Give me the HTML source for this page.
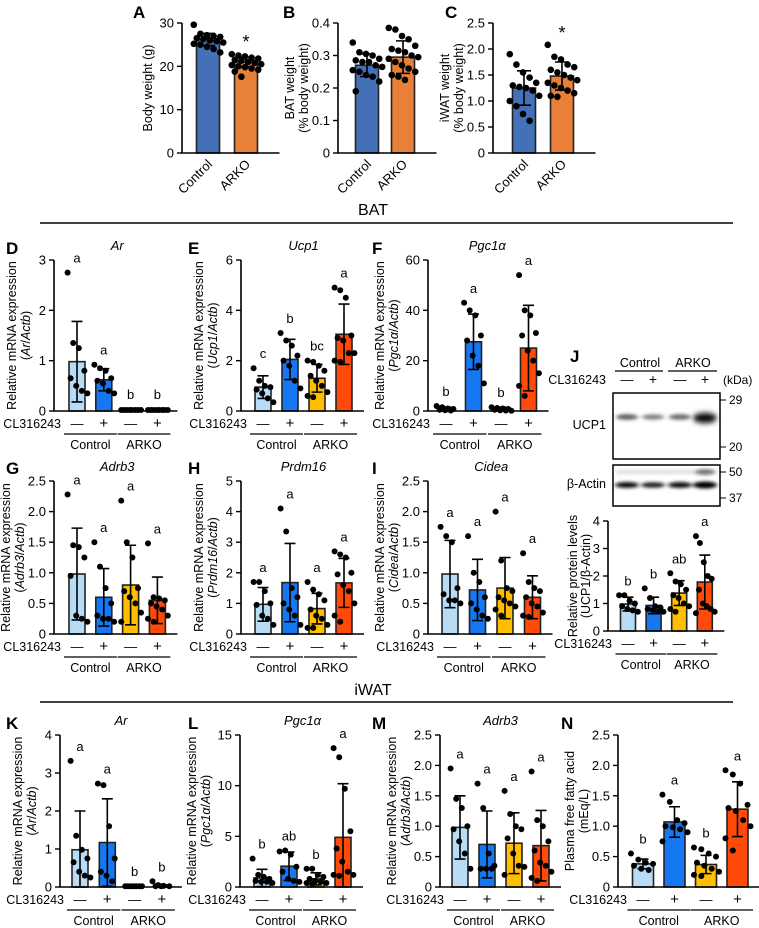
<!DOCTYPE html>
<html><head><meta charset="utf-8"><style>
html,body{margin:0;padding:0;background:#fff;}
svg{display:block;font-family:"Liberation Sans",Arial,sans-serif;}
</style></head><body>
<svg id="fig" width="759" height="928" viewBox="0 0 759 928" xmlns="http://www.w3.org/2000/svg">
<defs>
<filter id="blur2" x="-50%" y="-200%" width="200%" height="500%"><feGaussianBlur stdDeviation="2.2 1.6"/></filter>
<filter id="blur3" x="-50%" y="-200%" width="200%" height="500%"><feGaussianBlur stdDeviation="2.5 3"/></filter>
</defs>
<g>
<text x="373" y="215" font-size="16" text-anchor="middle">BAT</text>
<line x1="40" y1="223" x2="733" y2="223" stroke="#000" stroke-width="1.5"/>
</g>
<g>
<text x="373" y="695" font-size="16" text-anchor="middle">iWAT</text>
<line x1="40" y1="702" x2="733" y2="702" stroke="#000" stroke-width="1.5"/>
</g>
<g>
<text x="570" y="362" font-size="17" font-weight="bold">J</text>
<text x="640" y="367" font-size="12.5" text-anchor="middle">Control</text>
<line x1="615" y1="371" x2="663" y2="371" stroke="#000" stroke-width="1.2"/>
<text x="693" y="367" font-size="12.5" text-anchor="middle">ARKO</text>
<line x1="668" y1="371" x2="717" y2="371" stroke="#000" stroke-width="1.2"/>
<text x="606" y="384" font-size="12.5" text-anchor="end">CL316243</text>
<text x="627" y="384" font-size="13" text-anchor="middle">—</text>
<text x="653" y="384" font-size="14" text-anchor="middle">+</text>
<text x="680" y="384" font-size="13" text-anchor="middle">—</text>
<text x="705" y="384" font-size="14" text-anchor="middle">+</text>
<text x="723" y="384" font-size="12">(kDa)</text>
<rect x="613" y="393" width="107" height="66" fill="#fff" stroke="#000" stroke-width="1.5"/>
<g filter="url(#blur2)" fill="#333">
<ellipse cx="627" cy="417" rx="11" ry="3" opacity="0.75"/>
<ellipse cx="653" cy="417" rx="11" ry="2.8" opacity="0.6"/>
<ellipse cx="680" cy="417" rx="11" ry="3" opacity="0.7"/>
</g>
<ellipse cx="705" cy="418" rx="12" ry="5" fill="#000" filter="url(#blur3)"/>
<text x="606" y="429" font-size="12.5" text-anchor="end">UCP1</text>
<line x1="720" y1="400" x2="726" y2="400" stroke="#000"/><text x="729" y="404" font-size="12">29</text>
<line x1="720" y1="447" x2="726" y2="447" stroke="#000"/><text x="729" y="451" font-size="12">20</text>
<rect x="613" y="465" width="107" height="41" fill="#fff" stroke="#000" stroke-width="1.5"/>
<g filter="url(#blur2)">
<rect x="616" y="470" width="101" height="4" fill="#bbb" opacity="0.5"/>
<ellipse cx="627" cy="485" rx="12" ry="3" fill="#111"/>
<ellipse cx="653" cy="485" rx="12" ry="2.8" fill="#222"/>
<ellipse cx="680" cy="485" rx="12" ry="3" fill="#111"/>
<ellipse cx="705" cy="485" rx="12" ry="3.5" fill="#000"/>
<ellipse cx="705" cy="472" rx="10" ry="3" fill="#777"/>
</g>
<text x="606" y="488" font-size="12.5" text-anchor="end">β-Actin</text>
<line x1="720" y1="472" x2="726" y2="472" stroke="#000"/><text x="729" y="476" font-size="12">50</text>
<line x1="720" y1="498" x2="726" y2="498" stroke="#000"/><text x="729" y="502" font-size="12">37</text>
</g>
</svg>
<script>
// ---------- Data ----------
const groups2 = ["Control", "ARKO"];
const groups4 = ["Control −", "Control +", "ARKO −", "ARKO +"];

const aMeans = [26.2, 21.0];
const aSds = [1.4, 1.1];
const aDots = [[29.6,27.5,27.2,27,26.8,26.5,26.3,26,25.8,25.5,25.2,25,24.5,24,23.2],[22.8,22.5,22.3,22,21.8,21.5,21.3,21,20.8,20.5,20.3,20,19.8,19.5,19.2,18.8,17.6]];
const aTicks = [0,10,20,30];
const aLetters = ["", "*"];

const bMeans = [0.27, 0.295];
const bSds = [0.035, 0.05];
const bDots = [[0.34,0.31,0.305,0.3,0.29,0.285,0.28,0.28,0.27,0.265,0.255,0.25,0.24,0.235,0.22,0.19],[0.385,0.38,0.36,0.35,0.33,0.32,0.315,0.31,0.3,0.295,0.29,0.28,0.27,0.26,0.25,0.24,0.235,0.225]];
const bTicks = [0,0.1,0.2,0.3,0.4];
const bLetters = ["", ""];

const cMeans = [1.25, 1.48];
const cSds = [0.33, 0.27];
const cDots = [[1.9,1.7,1.55,1.45,1.35,1.3,1.27,1.25,1.2,1.1,1.0,0.9,0.75,0.62],[2.08,1.85,1.8,1.7,1.65,1.6,1.55,1.5,1.45,1.4,1.35,1.3,1.25,1.2,1.15,1.1,1.08]];
const cTicks = [0,0.5,1.0,1.5,2.0,2.5];
const cLetters = ["", "*"];

const dMeans = [0.98,0.62,0.03,0.03];
const dSds = [0.8,0.22,0.01,0.01];
const dDots = [[2.75,1.35,1.25,0.8,0.65,0.5,0.4,0.35],[0.92,0.85,0.8,0.65,0.6,0.55,0.4,0.35],[0.02,0.02,0.02,0.02,0.02,0.02,0.02,0.02],[0.02,0.02,0.02,0.02,0.02,0.02,0.02,0.02]];
const dTicks = [0,1,2,3];
const dLetters = ["a","a","b","b"];

const eMeans = [0.95,2.05,1.3,3.05];
const eSds = [0.45,0.8,0.55,1.2];
const eDots = [[1.7,1.2,1.0,0.95,0.85,0.7,0.5,0.35],[3.1,2.8,2.6,2.2,2.0,1.8,1.2,0.9],[2.0,1.95,1.8,1.6,1.4,1.2,1.0,0.75,0.6,0.55],[4.9,4.8,4.5,3.0,2.9,2.8,2.3,2.3,2.0,1.95]];
const eTicks = [0,2,4,6];
const eLetters = ["c","b","bc","a"];

const fMeans = [1,27.5,1,25];
const fSds = [0.5,11,0.5,17];
const fDots = [[2,1.5,1,0.8,0.5,0.3,0.2],[43,40,38,30,28,22,18,11],[1.5,1.2,1,0.8,0.5,0.3,0.2,0.1],[54,40,38,31,30,24,20,15,10,6]];
const fTicks = [0,20,40,60];
const fLetters = ["b","a","b","a"];

const gMeans = [0.98,0.6,0.8,0.55];
const gSds = [0.75,0.47,0.65,0.38];
const gDots = [[2.28,1.45,1.42,1.25,0.95,0.3,0.25,0.2],[1.5,1.1,0.75,0.5,0.3,0.25,0.25,0.2],[2.18,1.5,1.25,0.75,0.7,0.6,0.5,0.35,0.2],[1.48,0.6,0.58,0.55,0.5,0.45,0.4,0.3,0.25,0.2]];
const gTicks = [0,0.5,1.0,1.5,2.0,2.5];
const gLetters = ["a","a","a","a"];

const hMeans = [0.97,1.68,0.83,1.67];
const hSds = [0.55,1.28,0.5,0.8];
const hDots = [[1.7,1.7,1.4,1.0,0.95,0.6,0.5,0.3],[4.1,3.35,1.5,1.2,1.0,0.8,0.6,0.3],[1.7,1.45,1.3,1.1,0.8,0.6,0.5,0.3,0.2,0.2],[2.7,2.6,2.5,2.0,1.95,1.6,1.4,1.0,0.6,0.4]];
const hTicks = [0,1,2,3,4,5];
const hLetters = ["a","a","a","a"];

const iMeans = [0.98,0.72,0.75,0.6];
const iSds = [0.55,0.5,0.5,0.35];
const iDots = [[1.75,1.6,1.5,0.75,0.65,0.55,0.55,0.5],[1.6,1.0,0.85,0.6,0.5,0.4,0.3,0.25],[2.0,1.2,0.75,0.7,0.6,0.55,0.5,0.45,0.4,0.3],[1.32,0.85,0.75,0.7,0.6,0.5,0.45,0.35,0.3,0.28]];
const iTicks = [0,0.5,1.0,1.5,2.0,2.5];
const iLetters = ["a","a","a","a"];

const jMeans = [0.98,0.93,1.38,1.78];
const jSds = [0.25,0.3,0.45,0.98];
const jDots = [[1.3,1.3,1.1,1.0,0.9,0.8,0.75,0.7],[1.55,1.2,0.9,0.85,0.8,0.75,0.7,0.7],[2.1,1.8,1.7,1.5,1.3,1.2,1.0,0.9,0.8,0.7],[3.45,3.2,2.5,2.0,1.9,1.5,1.0,0.9,0.8,0.7,0.65]];
const jTicks = [0,1,2,3,4];
const jLetters = ["b","b","ab","a"];

const kMeans = [0.98,1.17,0.02,0.03];
const kSds = [1.02,1.15,0.01,0.02];
const kDots = [[3.32,1.35,0.98,0.75,0.65,0.4,0.3,0.25],[2.72,2.68,1.6,0.75,0.4,0.3,0.15],[0.02,0.02,0.02,0.02,0.02,0.02,0.02],[0.15,0.05,0.03,0.02,0.02,0.02]];
const kTicks = [0,1,2,3,4];
const kLetters = ["a","a","b","b"];

const lMeans = [0.9,2.05,0.8,4.9];
const lSds = [0.85,1.4,0.6,5.3];
const lDots = [[2.8,1.2,1,0.8,0.6,0.5,0.5,0.4],[3.5,3.6,3.2,2.0,1.5,0.8,0.6,0.5],[1.8,1.8,1.2,1,0.8,0.6,0.5,0.4,0.4,0.3],[13.7,12.8,9.7,5.5,3.8,2.5,1.5,1.2,1.2,1.1]];
const lTicks = [0,5,10,15];
const lLetters = ["b","ab","b","a"];

const mMeans = [0.98,0.7,0.72,0.68];
const mSds = [0.52,0.55,0.5,0.58];
const mDots = [[1.95,1.45,1.3,1.0,0.95,0.75,0.55,0.3],[1.7,1.3,0.55,0.35,0.3,0.3,0.3],[1.58,1.2,1.0,0.95,0.8,0.55,0.35,0.33,0.2],[1.9,1.1,1.0,0.75,0.6,0.4,0.35,0.25,0.15,0.1]];
const mTicks = [0,0.5,1.0,1.5,2.0,2.5];
const mLetters = ["a","a","a","a"];

const nMeans = [0.38,1.07,0.37,1.28];
const nSds = [0.08,0.25,0.15,0.45];
const nDots = [[0.55,0.45,0.4,0.38,0.35,0.3,0.28],[1.52,1.4,1.1,1.05,1.0,0.98,0.95,0.9,0.75],[0.65,0.62,0.55,0.5,0.4,0.35,0.3,0.25,0.2,0.18],[1.92,1.85,1.7,1.35,1.3,1.25,1.1,1.0,0.8,0.6]];
const nTicks = [0,0.5,1.0,1.5,2.0,2.5];
const nLetters = ["b","a","b","a"];

// ---------- Rendering ----------
const NS = "http://www.w3.org/2000/svg";
const svg = document.getElementById("fig");
const C4 = ["#b8dcf6","#1677f2","#ffbf00","#ff4a0a"];
const C2 = ["#4470b8","#e9803a"];
function mk(tag, attrs, parent, txt){
  const e = document.createElementNS(NS, tag);
  for (const k in attrs) e.setAttribute(k, attrs[k]);
  if (txt !== undefined) e.textContent = txt;
  parent.appendChild(e);
  return e;
}
function fmt(t, dec){ return t === 0 ? "0" : t.toFixed(dec); }

function panel(p){
  const g = mk("g", {}, svg);
  
  
  const n = p.means.length;
  const max = p.ticks[p.ticks.length-1];
  const y = v => p.bottom - (v / max) * (p.bottom - p.top);
  const x = i => p.bar1 + i * p.sp;
  const axEnd = x(n-1) + p.bw/2 + (n === 2 ? 22 : 12);
  if (p.letter) mk("text", {x:p.lx, y:p.ly, "font-size":17, "font-weight":"bold"}, g, p.letter);
  if (p.title){
    const t = mk("text", {x:(x(0)+x(n-1))/2, y:p.top-10, "font-size":13, "font-style":"italic", "text-anchor":"middle"}, g, p.title);
    
    
  }
  for (let i=0;i<n;i++){
    const col = n===2 ? C2[i] : C4[i];
    const r = mk("rect", {x:x(i)-p.bw/2, y:y(p.means[i]), width:p.bw, height:p.bottom-y(p.means[i]), fill:col, stroke:"#222", "stroke-width":1.6}, g);
    
    
  }
  const rad = p.r || 3;
  for (let i=0;i<n;i++){
    const ds = p.dots[i];
    ds.forEach((v, k) => {
      const cols = ds.length > 10 ? 5 : Math.min(4, ds.length);
      const spread = p.bw * (n===2 ? 1.15 : 1.05);
      const off = ((k % cols) - (cols-1)/2) * (spread/(cols-1 || 1)) + ((Math.floor(k/cols)%2) ? 2 : -1);
      const c = mk("circle", {cx:x(i)+off, cy:y(v), r:rad, fill:"#000"}, g);
      
      
    });
  }
  for (let i=0;i<n;i++){
    const hi = y(p.means[i]+p.sds[i]), lo = y(Math.max(0, p.means[i]-p.sds[i]));
    const cw = n===2 ? 7 : 5.5;
    const eb = mk("path", {d:`M${x(i)},${hi}V${lo}M${x(i)-cw},${hi}H${x(i)+cw}M${x(i)-cw},${lo}H${x(i)+cw}`, stroke:"#000", "stroke-width":1.6, fill:"none"}, g);
    
    
  }
  for (let i=0;i<n;i++){
    if (!p.letters[i]) continue;
    const topv = Math.max(Math.max.apply(null, p.dots[i]), p.means[i]+p.sds[i]);
    const ty = Math.max(p.top + 2, y(topv) - 10);
    const t = mk("text", {x:x(i), y: p.letters[i]==="*" ? ty+4 : ty, "font-size": p.letters[i]==="*"?18:13, "text-anchor":"middle"}, g, p.letters[i]);
    
    
  }
  mk("path", {d:`M${p.ax},${p.top}V${p.bottom}H${axEnd}`, stroke:"#000", "stroke-width":1.6, fill:"none"}, g);
  p.ticks.forEach(t => {
    mk("line", {x1:p.ax-5, x2:p.ax, y1:y(t), y2:y(t), stroke:"#000", "stroke-width":1.4}, g);
    const tl = mk("text", {x:p.ax-8, y:y(t)+4.5, "font-size":13, "text-anchor":"end"}, g, fmt(t, p.dec||0));
    
    
  });
  const cy = (p.top+p.bottom)/2;
  p.ylab.forEach((line, li) => {
    const lxp = p.ax - p.ylOff[li];
    const t = mk("text", {x:lxp, y:cy, "font-size":12.5, "text-anchor":"middle", transform:`rotate(-90 ${lxp} ${cy})`}, g);
    
    
    line.forEach(seg => { mk("tspan", seg[1] ? {"font-style":"italic"} : {}, t, seg[0]); });
  });
  if (n === 2){
    for (let i=0;i<2;i++){
      const tx = x(i)+5, ty = p.bottom+12;
      const t = mk("text", {x:tx, y:ty, "font-size":13, "text-anchor":"end", transform:`rotate(-45 ${tx} ${ty})`}, g, groups2[i]);
      
      
    }
  } else {
    const cyR = p.bottom + 17;
    const cl = mk("text", {x:x(0)-16, y:cyR, "font-size":12.5, "text-anchor":"end"}, g, "CL316243");
    
    
    for (let i=0;i<4;i++){
      mk("text", {x:x(i), y:cyR, "font-size": i%2 ? 15 : 13, "text-anchor":"middle"}, g, i%2 ? "+" : "—");
    }
    for (let gi=0; gi<2; gi++){
      const a = x(gi*2) - p.bw/2 - 5, b = x(gi*2+1) + p.bw/2 + 5;
      mk("line", {x1:a, x2:b, y1:p.bottom+23, y2:p.bottom+23, stroke:"#000", "stroke-width":1.3}, g);
      const gl = mk("text", {x:(a+b)/2, y:p.bottom+38, "font-size":12.5, "text-anchor":"middle"}, g, groups2[gi]);
      
      
    }
  }
}
const mrna = g => [[["Relative mRNA expression",0]],[["(",0],[g,1],["/",0],["Actb",1],[")",0]]];
const OFF2 = [38, 24];
panel({letter:"A", lx:133, ly:18, ax:182, top:23, bottom:153, bar1:208, sp:38, bw:23, r:3.3, ticks:aTicks, dec:0, means:aMeans, sds:aSds, dots:aDots, letters:aLetters, ylab:[[["Body weight (g)",0]]], ylOff:[30]});
panel({letter:"B", lx:283, ly:18, ax:338, top:23, bottom:153, bar1:367, sp:36, bw:23, r:3.3, ticks:bTicks, dec:1, means:bMeans, sds:bSds, dots:bDots, letters:bLetters, ylab:[[["BAT weight",0]],[["(% body weight)",0]]], ylOff:[44,30]});
panel({letter:"C", lx:445, ly:18, ax:493, top:23, bottom:153, bar1:524, sp:38, bw:23, r:3.3, ticks:cTicks, dec:1, means:cMeans, sds:cSds, dots:cDots, letters:cLetters, ylab:[[["iWAT weight",0]],[["(% body weight)",0]]], ylOff:[44,30]});
panel({letter:"D", lx:6, ly:254, title:"Ar", ax:54, top:260, bottom:411, bar1:77, sp:26.8, bw:16, ticks:dTicks, means:dMeans, sds:dSds, dots:dDots, letters:dLetters, ylab:mrna("Ar"), ylOff:OFF2});
panel({letter:"E", lx:188, ly:254, title:"Ucp1", ax:241, top:260, bottom:411, bar1:263, sp:27, bw:16, ticks:eTicks, means:eMeans, sds:eSds, dots:eDots, letters:eLetters, ylab:mrna("Ucp1"), ylOff:OFF2});
panel({letter:"F", lx:372, ly:254, title:"Pgc1α", ax:428, top:260, bottom:411, bar1:446, sp:27.5, bw:16, ticks:fTicks, means:fMeans, sds:fSds, dots:fDots, letters:fLetters, ylab:mrna("Pgc1α"), ylOff:[44,30]});
panel({letter:"G", lx:6, ly:474, title:"Adrb3", ax:54, top:481, bottom:634, bar1:77, sp:26.8, bw:16, ticks:gTicks, dec:1, means:gMeans, sds:gSds, dots:gDots, letters:gLetters, ylab:mrna("Adrb3"), ylOff:[44,30]});
panel({letter:"H", lx:188, ly:474, title:"Prdm16", ax:241, top:481, bottom:634, bar1:263, sp:27, bw:16, ticks:hTicks, means:hMeans, sds:hSds, dots:hDots, letters:hLetters, ylab:mrna("Prdm16"), ylOff:OFF2});
panel({letter:"I", lx:372, ly:474, title:"Cidea", ax:428, top:481, bottom:634, bar1:450, sp:27.5, bw:16, ticks:iTicks, dec:1, means:iMeans, sds:iSds, dots:iDots, letters:iLetters, ylab:mrna("Cidea"), ylOff:[44,30]});
panel({letter:"", lx:0, ly:0, ax:608, top:521, bottom:631, bar1:628, sp:25.6, bw:15, ticks:jTicks, means:jMeans, sds:jSds, dots:jDots, letters:jLetters, ylab:[[["Relative protein levels",0]],[["(UCP1/β-Actin)",0]]], ylOff:[31,18]});
panel({letter:"K", lx:6, ly:729, title:"Ar", ax:60, top:735, bottom:887, bar1:80, sp:27.3, bw:16, ticks:kTicks, means:kMeans, sds:kSds, dots:kDots, letters:kLetters, ylab:mrna("Ar"), ylOff:OFF2});
panel({letter:"L", lx:188, ly:729, title:"Pgc1α", ax:240, top:735, bottom:887, bar1:262, sp:27, bw:16, ticks:lTicks, means:lMeans, sds:lSds, dots:lDots, letters:lLetters, ylab:mrna("Pgc1α"), ylOff:[44,30]});
panel({letter:"M", lx:372, ly:729, title:"Adrb3", ax:440, top:735, bottom:887, bar1:460, sp:27, bw:16, ticks:mTicks, dec:1, means:mMeans, sds:mSds, dots:mDots, letters:mLetters, ylab:mrna("Adrb3"), ylOff:[44,30]});
panel({letter:"N", lx:561, ly:729, ax:618, top:735, bottom:887, bar1:643, sp:31.5, bw:21, ticks:nTicks, dec:1, means:nMeans, sds:nSds, dots:nDots, letters:nLetters, ylab:[[["Plasma free fatty acid",0]],[["(mEq/L)",0]]], ylOff:[44,30]});
</script>
</body></html>
